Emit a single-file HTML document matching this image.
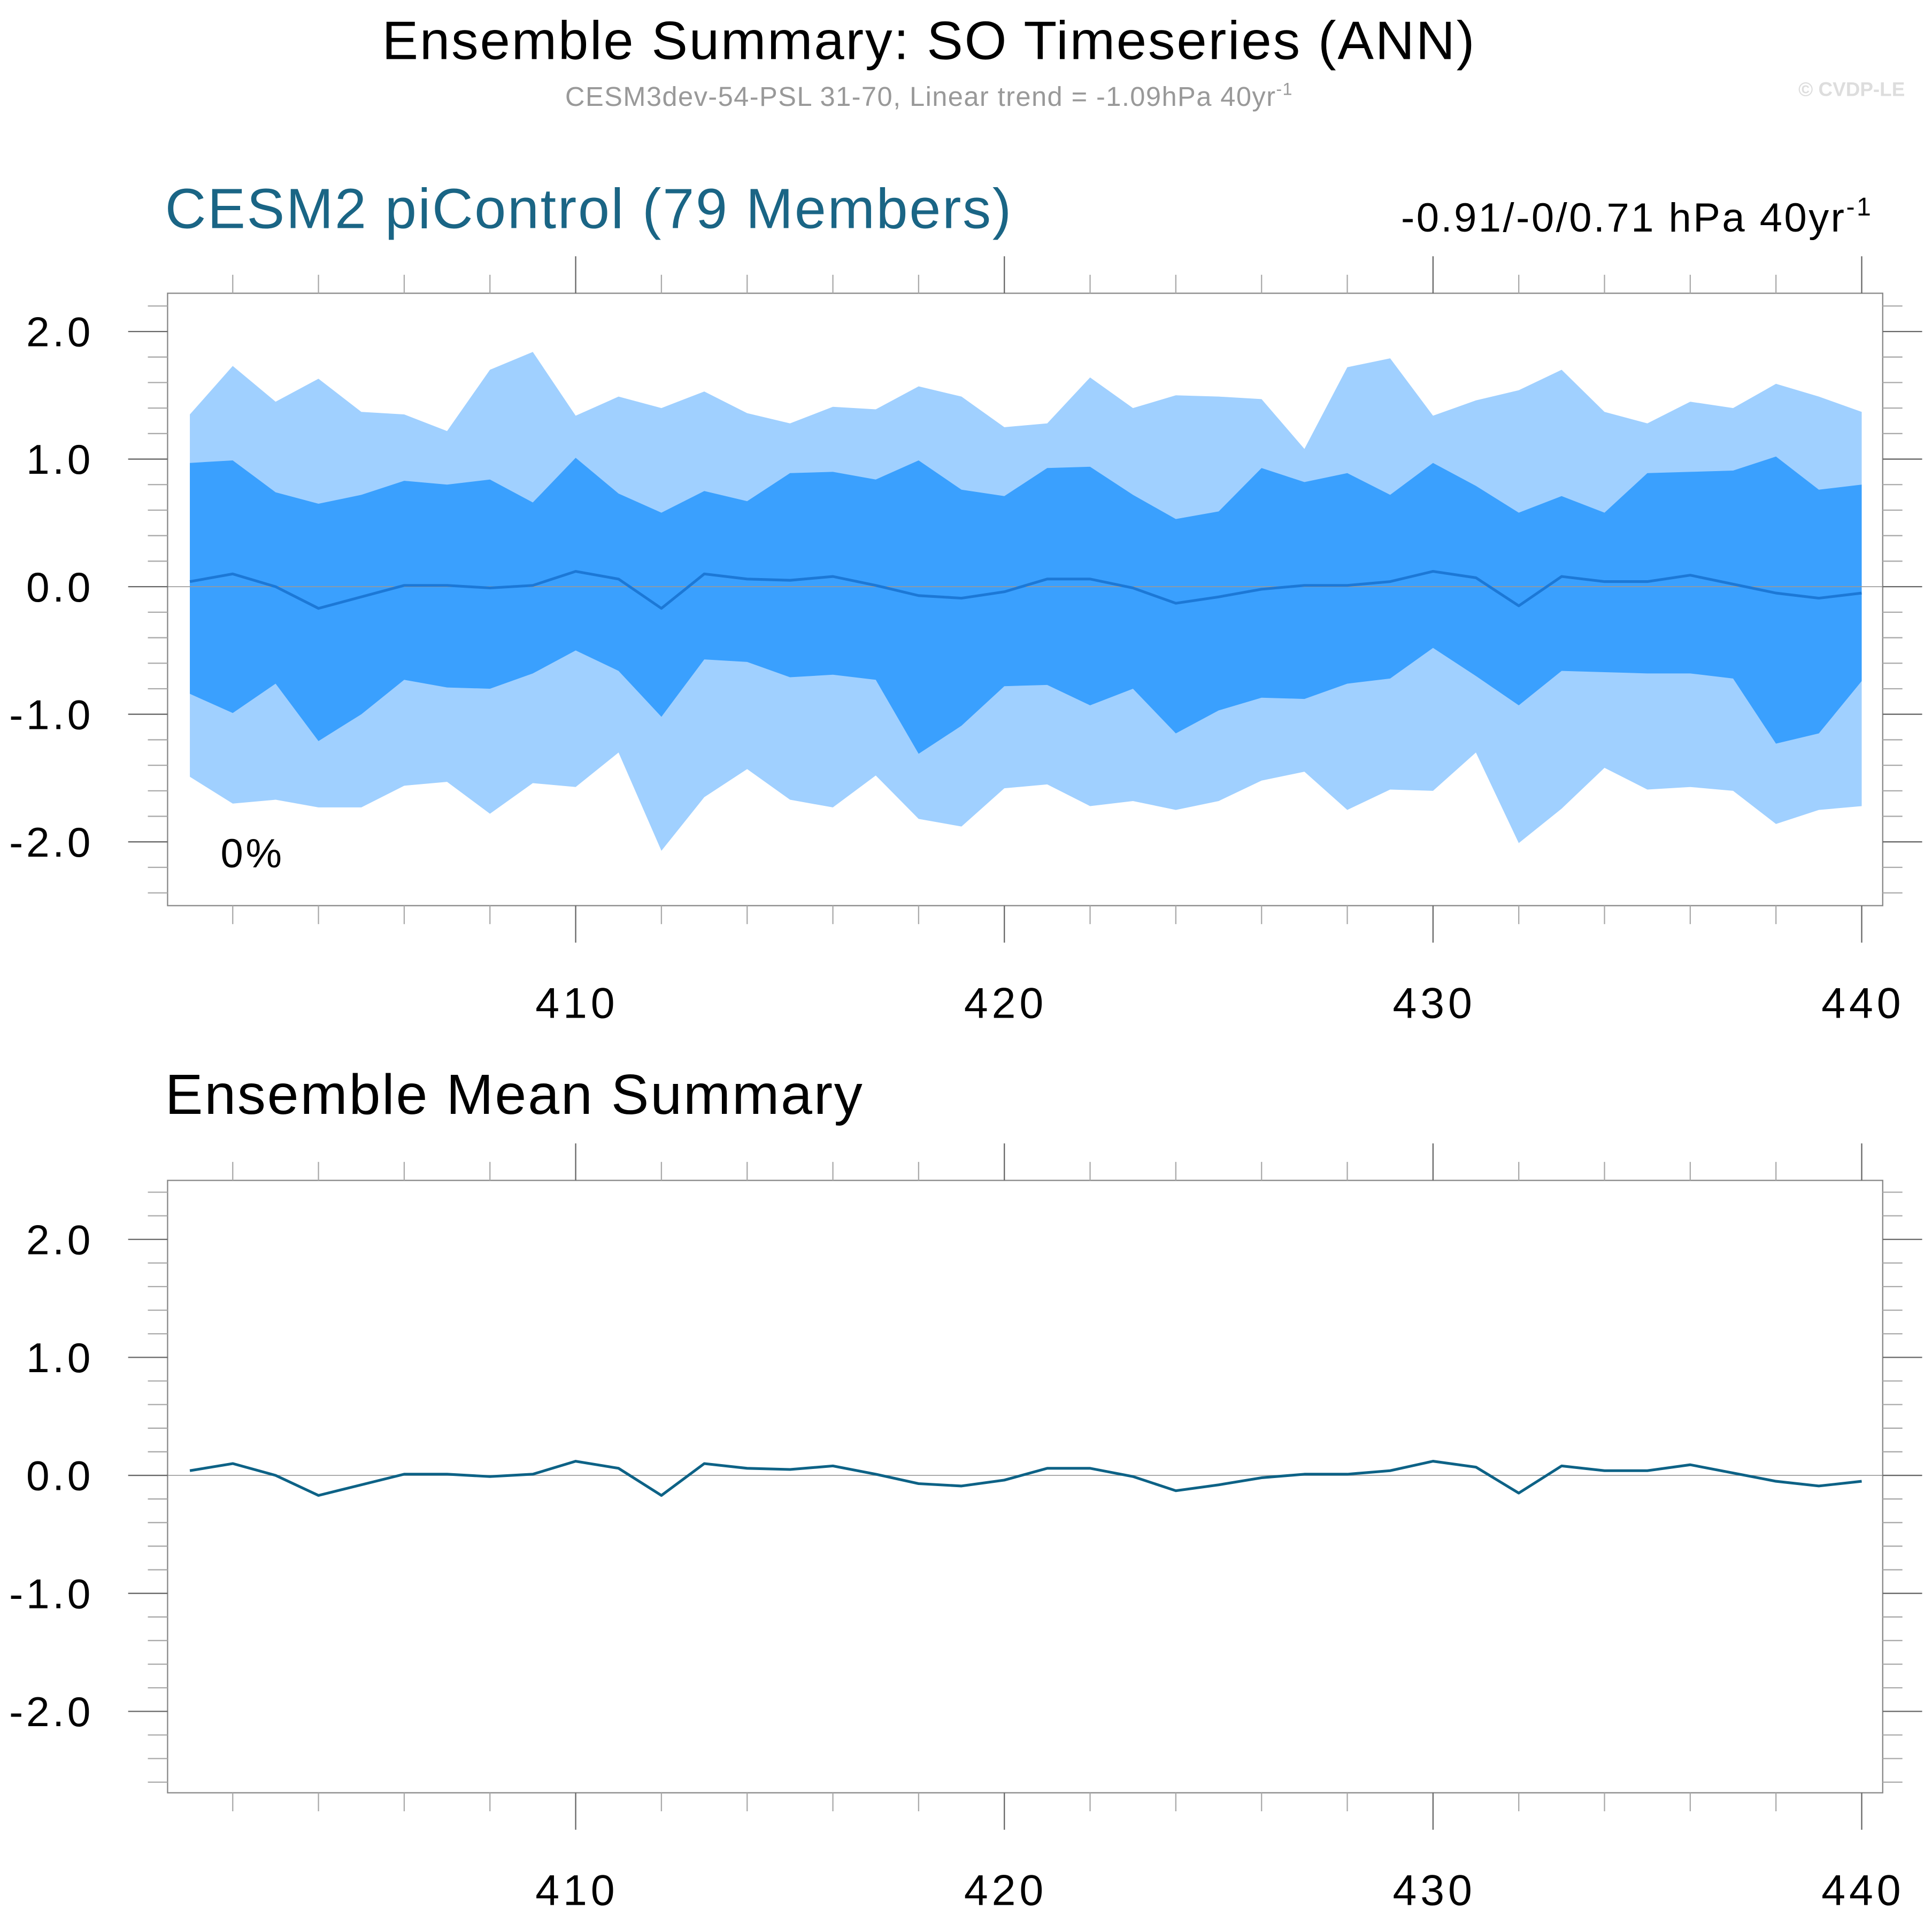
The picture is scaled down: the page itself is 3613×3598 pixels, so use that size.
<!DOCTYPE html>
<html><head><meta charset="utf-8"><style>
html,body{margin:0;padding:0;background:#fff;}
svg{display:block;font-family:"Liberation Sans",sans-serif;}
</style></head><body>
<svg id="chart" width="3613" height="3598" viewBox="0 0 1568 1561.5" xmlns="http://www.w3.org/2000/svg">
<text x="754" y="48" font-size="44" letter-spacing="1.2" text-anchor="middle" fill="#000">Ensemble Summary: SO Timeseries (ANN)</text>
<text x="754" y="86" font-size="22" letter-spacing="0.6" text-anchor="middle" fill="#999">CESM3dev-54-PSL 31-70, Linear trend = -1.09hPa 40yr<tspan dy="-9" font-size="14">-1</tspan></text>
<text x="1546" y="78" font-size="16" font-weight="bold" text-anchor="end" fill="#ddd">© CVDP-LE</text>
<text x="134" y="185" font-size="46" letter-spacing="1.2" fill="#1a6585">CESM2 piControl (79 Members)</text>
<text x="1520" y="188" font-size="33" letter-spacing="1.5" text-anchor="end" fill="#000">-0.91/-0/0.71 hPa 40yr<tspan dy="-13" font-size="21">-1</tspan></text>
<text x="134" y="904" font-size="46" letter-spacing="1.2" fill="#000">Ensemble Mean Summary</text>
<g id="top"></g><g id="bot"></g>
</svg>
<script>
const years = [];
for (let y = 401; y <= 440; y++) years.push(y);
const meanVals = [0.04,0.10,0.0,-0.17,-0.08,0.01,0.01,-0.01,0.01,0.12,0.06,-0.17,0.10,0.06,0.05,0.08,0.01,-0.07,-0.09,-0.04,0.06,0.06,-0.01,-0.13,-0.08,-0.02,0.01,0.01,0.04,0.12,0.07,-0.15,0.08,0.04,0.04,0.09,0.02,-0.05,-0.09,-0.05];
const outerHi = [1.35,1.73,1.45,1.63,1.37,1.35,1.22,1.70,1.84,1.34,1.49,1.40,1.53,1.36,1.28,1.41,1.39,1.57,1.49,1.25,1.28,1.64,1.40,1.50,1.49,1.47,1.08,1.72,1.79,1.34,1.46,1.54,1.70,1.37,1.28,1.45,1.40,1.59,1.49,1.37];
const innerHi = [0.97,0.99,0.74,0.65,0.72,0.83,0.80,0.84,0.66,1.01,0.73,0.58,0.75,0.67,0.89,0.90,0.84,0.99,0.76,0.71,0.93,0.94,0.72,0.53,0.59,0.93,0.82,0.89,0.72,0.97,0.79,0.58,0.71,0.58,0.89,0.90,0.91,1.02,0.76,0.80];
const innerLo = [-0.84,-0.99,-0.76,-1.21,-1.00,-0.73,-0.79,-0.80,-0.68,-0.50,-0.66,-1.02,-0.57,-0.59,-0.71,-0.69,-0.73,-1.31,-1.09,-0.78,-0.77,-0.93,-0.80,-1.15,-0.97,-0.87,-0.88,-0.76,-0.72,-0.48,-0.70,-0.93,-0.66,-0.67,-0.68,-0.68,-0.72,-1.23,-1.15,-0.74];
const outerLo = [-1.49,-1.70,-1.67,-1.73,-1.73,-1.56,-1.53,-1.78,-1.54,-1.57,-1.30,-2.07,-1.65,-1.43,-1.67,-1.73,-1.48,-1.82,-1.88,-1.58,-1.55,-1.72,-1.68,-1.75,-1.68,-1.52,-1.45,-1.75,-1.59,-1.60,-1.30,-2.01,-1.74,-1.42,-1.59,-1.57,-1.60,-1.86,-1.75,-1.72];
const yTickLabels = ["-2.0","-1.0","0.0","1.0","2.0"];
const yTickVals = [-2,-1,0,1,2];
const xTickVals = [410,420,430,440];

const NS = "http://www.w3.org/2000/svg";
function mk(parent, tag, attrs) {
  const e = document.createElementNS(NS, tag);
  for (const k in attrs) e.setAttribute(k, attrs[k]);
  parent.appendChild(e); return e;
}
function panel(gid, top, bottom, ymin, ymax, isTop) {
  const g = document.getElementById(gid);
  const L = 136, R = 1528, xmin = 400.48, xmax = 440.49;
  const sx = v => L + (v - xmin) / (xmax - xmin) * (R - L);
  const sy = v => bottom - (v - ymin) / (ymax - ymin) * (bottom - top);
  const band = (hi, lo, color, name) => {
    let d = hi.map((v,i)=>(i?'L':'M')+sx(years[i])+','+sy(v)).join('');
    for (let i = lo.length-1; i >= 0; i--) d += 'L'+sx(years[i])+','+sy(lo[i]);
    const p = mk(g,'path',{d:d+'Z',fill:color});
    
    
  };
  if (isTop) {
    band(outerHi, outerLo, '#a0d0ff', 'outer-range-band');
    band(innerHi, innerLo, '#3aa0fe', 'inner-range-band');
  }
  const zl = mk(g,'line',{x1:L,x2:R,y1:sy(0),y2:sy(0),stroke:'#999','stroke-width':0.7});
  
  
  const ml = mk(g,'polyline',{points:meanVals.map((v,i)=>sx(years[i])+','+sy(v)).join(' '),fill:'none',stroke:isTop?'#1c78d6':'#0d6286','stroke-width':2.2,'stroke-linejoin':'round'});
  
  
  const box = mk(g,'rect',{x:L,y:top,width:R-L,height:bottom-top,fill:'none',stroke:'#888','stroke-width':1});
  
  
  for (let k = -14; k <= 14; k++) {
    const v = k*0.2; const y = sy(v);
    if (y < top-0.5 || y > bottom+0.5) continue;
    const major = k % 5 === 0; const len = major ? 32 : 16;
    mk(g,'line',{x1:L-len,x2:L,y1:y,y2:y,stroke:major?'#666':'#aaa','stroke-width':1});
    mk(g,'line',{x1:R,x2:R+len,y1:y,y2:y,stroke:major?'#666':'#aaa','stroke-width':1});
  }
  yTickVals.forEach((v,i)=>{
    const t = mk(g,'text',{x:76,y:sy(v)+12,'font-size':34,'letter-spacing':2.5,'text-anchor':'end',fill:'#000'});
    t.textContent = yTickLabels[i];
    
    
  });
  for (let yr = 402; yr <= 440; yr += 2) {
    const x = sx(yr); const major = yr % 10 === 0; const len = major ? 30 : 15;
    mk(g,'line',{x1:x,x2:x,y1:top-len,y2:top,stroke:major?'#666':'#aaa','stroke-width':1});
    mk(g,'line',{x1:x,x2:x,y1:bottom,y2:bottom+len,stroke:major?'#666':'#aaa','stroke-width':1});
  }
  xTickVals.forEach(v=>{
    const t = mk(g,'text',{x:sx(v)+1,y:bottom+91,'font-size':35,'letter-spacing':3,'text-anchor':'middle',fill:'#000'});
    t.textContent = String(v);
    
    
  });
  if (isTop) {
    const t = mk(g,'text',{x:179,y:704,'font-size':33,'letter-spacing':2,fill:'#000'});
    t.textContent = '0%';
    
    
  }
}
panel('top', 238, 735, -2.50, 2.30, true);
panel('bot', 958, 1455, -2.69, 2.50, false);
</script>
</body></html>
